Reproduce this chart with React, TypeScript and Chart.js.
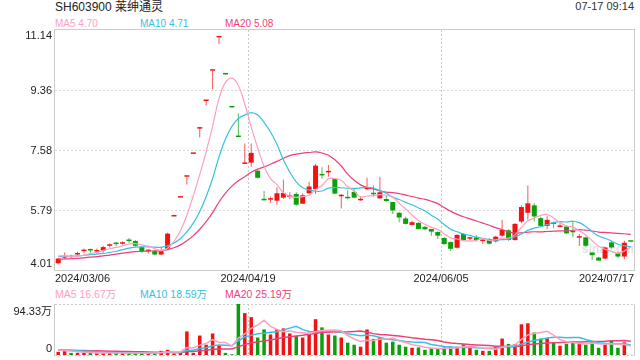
import React, { useEffect, useRef } from 'react';
import { Chart, registerables } from 'chart.js';

Chart.register(...registerables);

const TITLE = 'SH603900 莱绅通灵';
const TIME_TEXT = '07-17 09:14';

const DATES = [
  '2024/03/06','2024/03/07','2024/03/08','2024/03/11','2024/03/12','2024/03/13','2024/03/14','2024/03/15','2024/03/18','2024/03/19',
  '2024/03/20','2024/03/21','2024/03/22','2024/03/25','2024/03/26','2024/03/27','2024/03/28','2024/03/29','2024/04/01','2024/04/02',
  '2024/04/03','2024/04/08','2024/04/09','2024/04/10','2024/04/11','2024/04/12','2024/04/15','2024/04/16','2024/04/17','2024/04/18',
  '2024/04/19','2024/04/22','2024/04/23','2024/04/24','2024/04/25','2024/04/26','2024/04/29','2024/04/30','2024/05/06','2024/05/07',
  '2024/05/08','2024/05/09','2024/05/10','2024/05/13','2024/05/14','2024/05/15','2024/05/16','2024/05/17','2024/05/20','2024/05/21',
  '2024/05/22','2024/05/23','2024/05/24','2024/05/27','2024/05/28','2024/05/29','2024/05/30','2024/05/31','2024/06/03','2024/06/04',
  '2024/06/05','2024/06/06','2024/06/07','2024/06/11','2024/06/12','2024/06/13','2024/06/14','2024/06/17','2024/06/18','2024/06/19',
  '2024/06/20','2024/06/21','2024/06/24','2024/06/25','2024/06/26','2024/06/27','2024/06/28','2024/07/01','2024/07/02','2024/07/03',
  '2024/07/04','2024/07/05','2024/07/08','2024/07/09','2024/07/10','2024/07/11','2024/07/12','2024/07/15','2024/07/16','2024/07/17',
];

const OPEN = [
  4.21,4.38,4.43,4.47,4.57,4.60,4.56,4.59,4.73,4.79,
  4.79,4.89,4.87,4.69,4.57,4.57,4.47,4.64,5.60,6.16,
  6.78,7.46,8.21,9.03,9.93,10.92,9.83,8.85,7.97,7.16,
  7.20,6.96,6.09,6.10,6.07,6.16,6.18,6.27,5.98,6.29,
  6.41,6.84,6.91,6.71,6.20,6.17,6.33,6.08,6.41,6.28,
  6.14,6.12,6.03,5.71,5.54,5.35,5.41,5.29,5.23,5.14,
  4.96,4.84,4.67,5.08,4.94,4.98,4.87,4.93,4.86,5.03,
  5.19,4.90,5.45,5.71,5.93,5.55,5.32,5.40,5.29,5.30,
  5.16,4.97,4.98,4.53,4.38,4.35,4.83,4.52,4.41,4.86,
];
const HIGH = [
  4.37,4.53,4.46,4.55,4.65,4.65,4.65,4.72,4.80,4.84,
  4.86,4.96,4.90,4.72,4.63,4.60,4.70,5.12,5.60,6.16,
  6.78,7.46,8.25,9.06,9.93,10.92,9.83,8.85,8.66,7.77,
  7.77,6.98,6.36,6.19,6.47,6.70,6.32,6.32,6.29,6.63,
  7.17,7.06,7.13,6.73,6.27,6.38,6.44,6.19,6.75,6.52,
  6.78,6.22,6.03,5.74,5.59,5.47,5.43,5.32,5.23,5.16,
  4.98,4.86,5.08,5.10,5.00,5.04,4.95,4.96,5.03,5.50,
  5.22,5.40,5.93,6.52,5.99,5.59,5.61,5.45,5.40,5.32,
  5.47,5.08,5.00,4.53,4.40,4.70,4.88,4.55,4.88,4.86,
];
const LOW = [
  4.17,4.33,4.36,4.41,4.50,4.52,4.50,4.53,4.68,4.72,
  4.76,4.82,4.70,4.52,4.50,4.45,4.45,4.60,5.60,6.16,
  6.55,7.46,7.95,8.90,9.38,10.72,9.82,8.84,7.96,7.16,
  7.08,6.73,6.08,6.01,5.95,6.13,6.11,5.92,5.98,6.27,
  6.27,6.72,6.78,6.26,5.84,6.11,6.14,6.07,6.38,6.19,
  6.12,6.04,5.67,5.43,5.36,5.33,5.22,5.19,5.03,4.93,
  4.76,4.58,4.65,4.88,4.90,4.86,4.78,4.77,4.83,5.00,
  4.88,4.88,5.40,5.50,5.45,5.30,5.22,5.25,5.27,5.08,
  4.98,4.72,4.70,4.31,4.29,4.33,4.65,4.37,4.33,4.85,
];
const CLOSE = [
  4.35,4.43,4.39,4.50,4.59,4.59,4.59,4.69,4.75,4.78,
  4.83,4.87,4.73,4.57,4.59,4.47,4.57,5.09,5.60,6.16,
  6.78,7.46,8.21,9.03,9.93,10.92,9.82,8.84,7.96,7.17,
  7.49,6.75,6.08,6.12,6.29,6.30,6.19,5.95,6.23,6.49,
  7.11,6.82,6.94,6.28,6.23,6.14,6.16,6.09,6.42,6.26,
  6.32,6.06,5.78,5.57,5.38,5.43,5.23,5.22,5.15,5.03,
  4.78,4.64,5.05,4.90,4.96,4.90,4.89,4.79,5.00,5.20,
  4.90,5.38,5.88,5.99,5.60,5.32,5.50,5.38,5.31,5.10,
  5.13,4.98,4.73,4.45,4.29,4.68,4.68,4.41,4.82,4.85,
];
// volume in 万股
const VOLUME = [
  5.8,7.1,3.9,3.9,3.9,3.9,3.9,3.9,3.9,3.9,
  3.9,3.9,3.9,3.9,3.9,3.9,7.7,9.6,2.7,4.6,
  43.6,3.9,36.0,19.0,39.8,17.2,3.9,1.3,94.33,77.5,
  70.0,32.3,47.3,37.9,48.0,49.2,39.8,35.4,32.3,41.1,
  66.2,51.1,37.9,36.0,32.3,22.8,19.0,15.3,47.3,29.7,
  33.5,22.8,24.7,19.0,15.3,13.4,14.0,9.6,12.1,10.9,
  14.0,15.3,15.3,19.7,13.4,9.6,7.7,7.7,15.9,30.4,
  20.3,20.3,56.8,58.7,41.7,30.4,31.0,22.8,17.2,20.9,
  24.7,20.9,19.0,26.0,13.4,19.7,26.5,13.4,23.5,0.2,
];
// sessions before the visible window (needed for the moving averages)
const PRE_CLOSE = [4.22,4.28,4.24,4.27,4.21,4.26,4.29,4.23,4.27,4.25,4.33,4.36,4.40,4.38,4.42,4.43,4.47,4.44,4.46];
const PRE_VOLUME = [8.5,9.2,10.1,8.8,9.5,7.9,8.6,9.8,10.4,8.2,9.1,8.7,9.6,10.0,8.4,9.3,10.2,9.7,9.4];

const PRICE_TICKS = [4.01, 5.79, 7.58, 9.36, 11.14];
const VOLUME_TICKS = [0, 94.33];
const DATE_TICKS = ['2024/03/06', '2024/04/19', '2024/06/05', '2024/07/17'];
const MA_PERIODS = [5, 10, 20];
const PRICE_MA_TEXT = ['MA5 4.70', 'MA10 4.71', 'MA20 5.08'];
const VOLUME_MA_TEXT = ['MA5 16.67万', 'MA10 18.59万', 'MA20 25.19万'];
const WATERMARK = 'sina.com';

// styles
const FONT = '"Liberation Sans", Arial, "Noto Sans CJK SC", sans-serif';
const UP = '#f21212';
const DOWN = '#0aa00a';
const UP_WICK = '#f55a5a';
const DOWN_WICK = '#55bb55';
const MA_COLORS = ['#ff9ec0', '#35c2e2', '#ee3f79'];
const LEGEND_X = [55, 140, 225];

function movingAverage(values: number[], prior: number[], n: number): number[] {
  const all = [...prior, ...values];
  return values.map((_, i) => {
    const end = prior.length + i;
    let s = 0;
    for (let k = end - n + 1; k <= end; k++) s += all[k];
    return s / n;
  });
}

const isUp = (i: number) => CLOSE[i] >= OPEN[i];

function slotBoundary(chart: any, i: number) {
  const a = chart.chartArea;
  const slot = (a.right - a.left) / DATES.length;
  return chart.scales.x.getPixelForValue(i) - slot / 2;
}

function drawDividers(chart: any) {
  const { ctx, chartArea: a } = chart;
  ctx.save();
  ctx.strokeStyle = '#c8c8c8';
  ctx.lineWidth = 1;
  ctx.setLineDash([2, 2]);
  DATE_TICKS.forEach((d) => {
    const i = DATES.indexOf(d);
    if (i <= 0 || i >= DATES.length - 1) return;
    const px = Math.round(slotBoundary(chart, i)) + 0.5;
    ctx.beginPath();
    ctx.moveTo(px, a.top);
    ctx.lineTo(px, a.bottom);
    ctx.stroke();
  });
  ctx.restore();
}

const priceDecor = {
  id: 'priceDecor',
  beforeDatasetsDraw(chart: any) {
    const { ctx, chartArea: a, scales } = chart;
    ctx.save();
    ctx.strokeStyle = '#d9d9d9';
    ctx.lineWidth = 1;
    ctx.setLineDash([2, 2]);
    PRICE_TICKS.slice(1, -1).forEach((v) => {
      const py = Math.round(scales.y.getPixelForValue(v)) + 0.5;
      ctx.beginPath();
      ctx.moveTo(a.left, py);
      ctx.lineTo(a.right, py);
      ctx.stroke();
    });
    ctx.restore();
    drawDividers(chart);
    ctx.save();
    ctx.fillStyle = '#e2e2e2';
    ctx.font = `bold 12px ${FONT}`;
    ctx.textAlign = 'left';
    ctx.fillText(WATERMARK, a.right - 52, a.bottom - 17);
    ctx.restore();
  },
  afterDraw(chart: any) {
    const { ctx, chartArea: a, scales } = chart;
    ctx.save();
    ctx.strokeStyle = '#cccccc';
    ctx.lineWidth = 1;
    ctx.strokeRect(a.left - 0.5, a.top - 0.5, a.right - a.left + 1, a.bottom - a.top + 1);
    ctx.fillStyle = '#222';
    ctx.font = `11px ${FONT}`;
    ctx.textAlign = 'right';
    PRICE_TICKS.forEach((v, k) => {
      let by = scales.y.getPixelForValue(v) + 3.8;
      if (k === PRICE_TICKS.length - 1) by = a.top + 8.5;
      if (k === 0) by = a.bottom - 3.3;
      ctx.fillText(v.toFixed(2), 52, by);
    });
    DATE_TICKS.forEach((d, k) => {
      const i = DATES.indexOf(d);
      let px = slotBoundary(chart, i);
      if (k === 0) { ctx.textAlign = 'left'; px = a.left; }
      else if (k === DATE_TICKS.length - 1) { ctx.textAlign = 'right'; px = a.right; }
      else ctx.textAlign = 'center';
      ctx.fillText(d, px, a.bottom + 11.7);
    });
    ctx.restore();
  },
};

const volumeDecor = {
  id: 'volumeDecor',
  beforeDatasetsDraw(chart: any) {
    const { ctx, chartArea: a } = chart;
    ctx.save();
    ctx.strokeStyle = '#cccccc';
    ctx.lineWidth = 1;
    ctx.setLineDash([2, 2]);
    [a.top + 0.5, a.bottom + 0.5].forEach((py) => {
      ctx.beginPath();
      ctx.moveTo(a.left, py);
      ctx.lineTo(a.right, py);
      ctx.stroke();
    });
    ctx.setLineDash([]);
    [a.left - 0.5, a.right + 0.5].forEach((px) => {
      ctx.beginPath();
      ctx.moveTo(px, a.top);
      ctx.lineTo(px, a.bottom + 1);
      ctx.stroke();
    });
    ctx.restore();
    drawDividers(chart);
  },
  afterDraw(chart: any) {
    const { ctx, chartArea: a } = chart;
    ctx.save();
    ctx.fillStyle = '#222';
    ctx.font = `11px ${FONT}`;
    ctx.textAlign = 'right';
    VOLUME_TICKS.forEach((v, k) => {
      const text = v === 0 ? '0' : `${v.toFixed(2)}万`;
      const by = k === 0 ? a.bottom - 3.3 : a.top + 11;
      ctx.fillText(text, 52, by);
    });
    ctx.restore();
  },
};

function lineDataset(data: number[], color: string, width: number, tension: number) {
  return {
    type: 'line' as const,
    data,
    borderColor: color,
    borderWidth: width,
    pointRadius: 0,
    tension,
    fill: false,
    order: 0,
  };
}

export default function App() {
  const priceRef = useRef<HTMLCanvasElement>(null);
  const volRef = useRef<HTMLCanvasElement>(null);

  useEffect(() => {
    const colors = DATES.map((_, i) => (isUp(i) ? UP : DOWN));
    const wickColors = DATES.map((_, i) => (isUp(i) ? UP_WICK : DOWN_WICK));
    const priceMAs = MA_PERIODS.map((n) => movingAverage(CLOSE, PRE_CLOSE, n));
    const volMAs = MA_PERIODS.map((n) => movingAverage(VOLUME, PRE_VOLUME, n));

    const price = new Chart(priceRef.current as HTMLCanvasElement, {
      type: 'bar',
      data: {
        labels: DATES,
        datasets: [
          ...priceMAs.map((d, k) => lineDataset(d, MA_COLORS[k], 1.2, 0.4)),
          {
            type: 'bar',
            data: DATES.map((_, i) => [LOW[i], HIGH[i]]),
            backgroundColor: wickColors,
            barThickness: 1,
            grouped: false,
            inflateAmount: 0,
            order: 2,
          },
          {
            type: 'bar',
            data: DATES.map((_, i) => [OPEN[i], CLOSE[i]]),
            backgroundColor: colors,
            barThickness: 5,
            minBarLength: 1.5,
            grouped: false,
            inflateAmount: 0,
            order: 1,
          },
        ] as any,
      },
      options: {
        animation: false,
        responsive: false,
        events: [],
        layout: { padding: { left: 55, top: 30, right: 6, bottom: 30 } },
        plugins: { legend: { display: false }, tooltip: { enabled: false } },
        scales: {
          x: { display: false, offset: true },
          y: { display: false, min: PRICE_TICKS[0], max: PRICE_TICKS[PRICE_TICKS.length - 1] },
        },
      } as any,
      plugins: [priceDecor],
    });

    const volume = new Chart(volRef.current as HTMLCanvasElement, {
      type: 'bar',
      data: {
        labels: DATES,
        datasets: [
          ...volMAs.map((d, k) => lineDataset(d, MA_COLORS[k], 1.5, 0)),
          {
            type: 'bar',
            data: VOLUME,
            backgroundColor: colors,
            barThickness: 3.5,
            grouped: false,
            inflateAmount: 0,
            order: 1,
          },
        ] as any,
      },
      options: {
        animation: false,
        responsive: false,
        events: [],
        layout: { padding: { left: 55, top: 4, right: 6, bottom: 5 } },
        plugins: { legend: { display: false }, tooltip: { enabled: false } },
        scales: {
          x: { display: false, offset: true },
          y: { display: false, min: VOLUME_TICKS[0], max: VOLUME_TICKS[1] },
        },
      } as any,
      plugins: [volumeDecor],
    });

    return () => {
      price.destroy();
      volume.destroy();
    };
  }, []);

  const text = (content: string, style: React.CSSProperties, key?: string) => (
    <div key={key} style={{ position: 'absolute', whiteSpace: 'nowrap', lineHeight: 1, fontFamily: FONT, ...style }}>
      {content}
    </div>
  );

  return (
    <div style={{ position: 'absolute', left: 0, top: 0, width: 640, height: 360, background: '#fff', overflow: 'hidden' }}>
      {text(TITLE, { left: 55, top: 1.3, fontSize: 12, color: '#222' })}
      {text(TIME_TEXT, { right: 6, top: 1.4, fontSize: 11, color: '#333' })}
      {PRICE_MA_TEXT.map((t, k) => text(t, { left: LEGEND_X[k], top: 18.8, fontSize: 10, color: MA_COLORS[k] }, 'p' + k))}
      {VOLUME_MA_TEXT.map((t, k) => text(t, { left: LEGEND_X[k], top: 289.4, fontSize: 10.5, color: MA_COLORS[k] }, 'v' + k))}
      <canvas ref={priceRef} width={640} height={300} style={{ position: 'absolute', left: 0, top: 0, width: 640, height: 300 }} />
      <canvas ref={volRef} width={640} height={60} style={{ position: 'absolute', left: 0, top: 300, width: 640, height: 60 }} />
    </div>
  );
}
